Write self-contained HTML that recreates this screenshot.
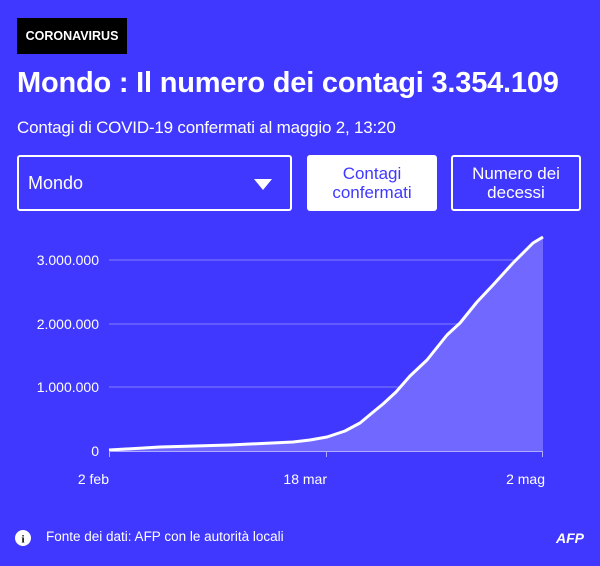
<!DOCTYPE html>
<html><head><meta charset="utf-8"><style>
body{margin:0;width:600px;height:566px;background:#4038ff;font-family:"Liberation Sans",sans-serif;color:#fff;position:relative;overflow:hidden}
.tag{position:absolute;left:17px;top:18px;width:110px;height:36px;background:#000;font-weight:bold;font-size:12.5px;line-height:36px;text-align:center}
h1{position:absolute;left:17px;top:67px;margin:0;font-size:29px;font-weight:bold;letter-spacing:-0.2px}
.sub{position:absolute;left:17px;top:118px;font-size:17px;letter-spacing:-0.2px}
.box{position:absolute;top:155px;height:56px;border:2px solid #fff;border-radius:3px;box-sizing:border-box;font-size:17px;text-align:center}
.foot{position:absolute;left:46px;top:529px;font-size:13.5px}
</style></head><body>
<div class="tag">CORONAVIRUS</div>
<h1>Mondo : Il numero dei contagi 3.354.109</h1>
<div class="sub">Contagi di COVID-19 confermati al maggio 2, 13:20</div>
<div class="box" style="left:17px;width:275px;text-align:left;padding-left:9px;line-height:52px;font-size:18px">Mondo<span style="position:absolute;right:18px;top:22px;width:0;height:0;border-left:9px solid transparent;border-right:9px solid transparent;border-top:11px solid #fff"></span></div>
<div class="box" style="left:307px;width:130px;background:#fff;color:#4038ff;padding-top:7px;line-height:19px">Contagi<br>confermati</div>
<div class="box" style="left:451px;width:130px;padding-top:7px;line-height:19px">Numero dei<br>decessi</div>
<svg style="position:absolute;left:0;top:0" width="600" height="566">
<g stroke="#6e68ff" stroke-width="1.5"><line x1="109" x2="543" y1="260" y2="260"/><line x1="109" x2="543" y1="324" y2="324"/><line x1="109" x2="543" y1="387" y2="387"/></g>
<path d="M109,450 L160,447 L230,445 L293,442 L310,440 L327,437 L345,431 L360,423 L372,413 L383,404 L396,392 L410,376 L427,360 L447,335 L460,323 L477,302 L493,285 L513,263 L533,243 L543,237 L543,451 L109,451Z" fill="#7169ff"/>
<path d="M109,450 L160,447 L230,445 L293,442 L310,440 L327,437 L345,431 L360,423 L372,413 L383,404 L396,392 L410,376 L427,360 L447,335 L460,323 L477,302 L493,285 L513,263 L533,243 L543,237" fill="none" stroke="#fff" stroke-width="3" stroke-linejoin="round"/>
<g stroke="#b0acff" stroke-width="1"><line x1="109" x2="543" y1="451.5" y2="451.5"/><line x1="109.5" x2="109.5" y1="451" y2="457"/><line x1="326.5" x2="326.5" y1="451" y2="457"/><line x1="542.5" x2="542.5" y1="451" y2="457"/></g>
<g fill="#fff" font-family="Liberation Sans,sans-serif" font-size="14" text-anchor="end"><text x="99" y="265">3.000.000</text><text x="99" y="329">2.000.000</text><text x="99" y="392">1.000.000</text><text x="99" y="456">0</text></g>
<g fill="#fff" font-family="Liberation Sans,sans-serif" font-size="14" text-anchor="end"><text x="109" y="484">2 feb</text><text x="327" y="484">18 mar</text><text x="545" y="484">2 mag</text></g>
<circle cx="23" cy="538" r="8" fill="#fff"/><text x="23" y="542.5" fill="#000" font-size="11" font-weight="bold" text-anchor="middle" font-family="Liberation Serif,serif">i</text>
<text x="584" y="543" fill="#fff" font-size="14" font-weight="bold" font-style="italic" text-anchor="end" font-family="Liberation Sans,sans-serif">AFP</text>
</svg>
<div class="foot">Fonte dei dati: AFP con le autorità locali</div>
</body></html>
